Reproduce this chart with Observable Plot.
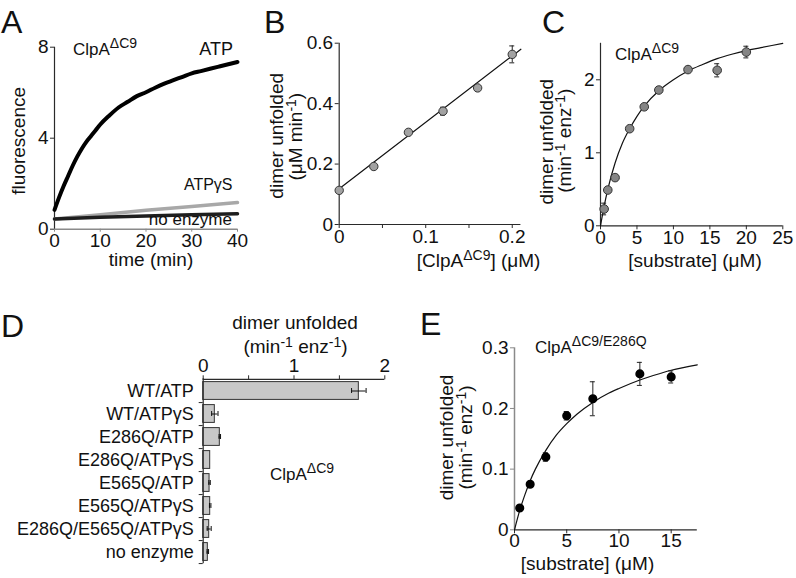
<!DOCTYPE html>
<html><head><meta charset="utf-8">
<script src="https://cdn.jsdelivr.net/npm/d3@7"></script>
<script src="https://cdn.jsdelivr.net/npm/@observablehq/plot@0.6"></script>
<style>
body{margin:0;background:#fff;}
#fig{position:relative;width:796px;height:578px;overflow:hidden;background:#fff;}
#fig svg{position:absolute;overflow:visible;}
</style></head><body><div id="fig"></div>
<script>
// ---------- Panel A: fluorescence traces ----------
const timeA = [0,1,2,3,4,5,6,7,8,9,10,12,14,16,18,20,22,24,26,28,30,32,34,36,38,40];
const fluorATP = [0.85,1.4,1.9,2.35,2.8,3.2,3.55,3.85,4.1,4.35,4.6,5.0,5.35,5.6,5.85,6.02,6.22,6.4,6.55,6.7,6.85,6.95,7.05,7.15,7.25,7.35];
const timeLin = [0,10,20,30,40];
const fluorATPgS = [0.45,0.64,0.83,1.0,1.17];
const fluorNoEnz = [0.45,0.52,0.58,0.63,0.68];
const ticksAx = [0,10,20,30,40];
const ticksAy = [0,4,8];

// ---------- Panel B: rate vs [ClpA] ----------
const clpAConc = [0,0.04,0.08,0.12,0.16,0.2];
const rateB = [0.113,0.192,0.305,0.375,0.452,0.563];
const errB = [0,0,0,0.013,0,0.028];
const fitBx = [0,0.21];
const fitBy = [0.118,0.580];
const ticksBx = [0,0.1,0.2];
const minorBx = [0.05,0.15];
const ticksBy = [0,0.2,0.4,0.6];

// ---------- Panel C: Michaelis-Menten ClpA dC9 ----------
const substrateC = [0.5,1,2,4,6,8,12,16,20];
const rateC = [0.23,0.49,0.66,1.33,1.63,1.86,2.14,2.13,2.38];
const errC = [0.08,0,0,0,0.03,0,0,0.09,0.08];
const fitCx = [0,0.5,1,2,3,4,5,6,8,10,12,14,16,18,20,22,25];
const fitCy = [0,0.27,0.5,0.86,1.13,1.33,1.5,1.64,1.85,2.0,2.12,2.21,2.29,2.35,2.4,2.44,2.5];
const ticksCx = [0,5,10,15,20,25];
const ticksCy = [0,1,2];

// ---------- Panel D: bars ----------
const categoriesD = ["WT/ATP","WT/ATPγS","E286Q/ATP","E286Q/ATPγS","E565Q/ATP","E565Q/ATPγS","E286Q/E565Q/ATPγS","no enzyme"];
const valuesD = [1.714,0.128,0.183,0.077,0.07,0.077,0.066,0.051];
const errD = [0.08,0.035,0.008,0,0.008,0.008,0.022,0.008];
const ticksDx = [0,1,2];
const minorDx = [0.5,1.5];

// ---------- Panel E: E286Q ----------
const substrateE = [0.5,1.5,3,5,7.5,12,15];
const rateE = [0.036,0.075,0.120,0.188,0.216,0.257,0.252];
const errE = [0,0,0.007,0.007,0.028,0.019,0.01];
const fitEx = [0,0.5,1,1.5,2,3,4,5,6,7.5,9,10,12,14,15,17.5];
const fitEy = [0,0.032,0.058,0.081,0.1,0.131,0.156,0.175,0.191,0.21,0.225,0.233,0.247,0.258,0.263,0.272];
const ticksEx = [0,5,10,15];
const ticksEy = [0,0.1,0.2,0.3];

// ---------- helpers ----------
const FONT = '"Liberation Sans", Arial, Helvetica, sans-serif';
const baseStyle = {fontFamily: FONT, fontSize: "19px", color: "#111", background: "transparent", overflow: "visible"};
const fmt = d3.format("~g");
const zip = (xs, ys, es) => xs.map((x, i) => ({x, y: ys[i], e: es ? es[i] : 0}));
const DARK = "#2a2a2a", GRAY = "#8a8a8a";

function txt(svg, x, y, parts, o = {}) {
  const t = d3.select(svg).append("text")
    .attr("transform", `translate(${x},${y})` + (o.rotate ? ` rotate(${o.rotate})` : ""))
    .attr("text-anchor", o.anchor || "start")
    .attr("font-size", o.size || 19)
    .attr("font-family", FONT)
    .attr("fill", "#111");
  let cur = 0;
  for (const p of parts) {
    const sup = Array.isArray(p);
    const target = sup ? -(o.raise || 7) : 0;
    const s = t.append("tspan").attr("dy", target - cur).text(sup ? p[0] : p);
    if (sup) s.attr("font-size", o.supSize || 14);
    cur = target;
  }
}
function errMarks(pts, stroke) {
  const ep = pts.filter(d => d.e > 0);
  return [
    Plot.ruleX(ep, {x: "x", y1: d => d.y - d.e, y2: d => d.y + d.e, stroke, strokeWidth: 1}),
    Plot.ruleY(ep, {y: d => d.y + d.e, x1: "x", x2: "x", insetLeft: -2.5, insetRight: -2.5, stroke, strokeWidth: 1}),
    Plot.ruleY(ep, {y: d => d.y - d.e, x1: "x", x2: "x", insetLeft: -2.5, insetRight: -2.5, stroke, strokeWidth: 1})
  ];
}
const fig = document.getElementById("fig");
function place(svg, left, top) { svg.style.left = left + "px"; svg.style.top = top + "px"; fig.appendChild(svg); }

// ---------- A ----------
const A = Plot.plot({
  width: 260, height: 290, marginLeft: 54, marginRight: 23, marginTop: 46.7, marginBottom: 61.3,
  x: {domain: [0, 40]}, y: {domain: [0, 8]}, style: baseStyle,
  marks: [
    Plot.axisX({ticks: ticksAx, tickSize: 3, tickPadding: 1, label: null, stroke: GRAY, tickFormat: fmt}),
    Plot.axisY({ticks: ticksAy, tickSize: 4, tickPadding: 2, label: null, stroke: DARK, tickFormat: fmt}),
    Plot.ruleY([0], {stroke: GRAY, strokeWidth: 1.6}),
    Plot.ruleX([0], {stroke: DARK, strokeWidth: 1.2}),
    Plot.line(zip(timeLin, fluorATPgS), {x: "x", y: "y", stroke: "#a8a8a8", strokeWidth: 3.5}),
    Plot.line(zip(timeLin, fluorNoEnz), {x: "x", y: "y", stroke: "#1e1e1e", strokeWidth: 3.5}),
    Plot.line(zip(timeA, fluorATP), {x: "x", y: "y", stroke: "#000", strokeWidth: 4, curve: "monotone-x"})
  ]
});
place(A, 0, 0);
txt(A, 1, 33, ["A"], {size: 32});
txt(A, 73, 55, ["ClpA", ["ΔC9"]], {size: 17});
txt(A, 233, 55, ["ATP"], {anchor: "end", size: 18});
txt(A, 232.5, 190, ["ATPγS"], {anchor: "end", size: 16});
txt(A, 232, 224.5, ["no enzyme"], {anchor: "end", size: 17});
txt(A, 151, 266, ["time (min)"], {anchor: "middle"});
txt(A, 24.5, 140.8, ["fluorescence"], {anchor: "middle", rotate: -90});

// ---------- B ----------
const ptsB = zip(clpAConc, rateB, errB);
const B = Plot.plot({
  width: 270, height: 290, marginLeft: 78.7, marginRight: 9.6, marginTop: 42.7, marginBottom: 66,
  x: {domain: [0, 0.21]}, y: {domain: [0, 0.6]}, style: baseStyle,
  marks: [
    Plot.ruleX([0], {stroke: DARK, strokeWidth: 1.2}),
    Plot.ruleY([0], {stroke: DARK, strokeWidth: 1.2}),
    Plot.axisY({ticks: ticksBy, tickSize: 4, tickPadding: 2, label: null, stroke: DARK, tickFormat: fmt}),
    Plot.axisX({ticks: ticksBx, tickSize: 4, tickPadding: 1, label: null, stroke: DARK, tickFormat: fmt}),
    Plot.axisX({ticks: minorBx, tickSize: 4, tickFormat: () => "", label: null, stroke: DARK}),
    Plot.line(zip(fitBx, fitBy), {x: "x", y: "y", stroke: "#111", strokeWidth: 1.2}),
    ...errMarks(ptsB, "#222"),
    Plot.dot(ptsB, {x: "x", y: "y", r: 4.2, fill: "#a2a2a2", stroke: "#333", strokeWidth: 1})
  ]
});
place(B, 260, 0);
txt(B, 4, 33, ["B"], {size: 32});
txt(B, 156.7, 267, ["[ClpA", ["ΔC9"], "] (μM)"]);
txt(B, 23, 135.8, ["dimer unfolded"], {anchor: "middle", rotate: -90});
txt(B, 42, 136.7, ["(μM min", ["-1"], ")"], {anchor: "middle", rotate: -90, raise: 6});

// ---------- C ----------
const ptsC = zip(substrateC, rateC, errC);
const C = Plot.plot({
  width: 266, height: 290, marginLeft: 70, marginRight: 13.7, marginTop: 42.8, marginBottom: 64.7,
  x: {domain: [0, 25]}, y: {domain: [0, 2.5]}, style: baseStyle,
  marks: [
    Plot.ruleX([0], {stroke: DARK, strokeWidth: 1.2}),
    Plot.ruleY([0], {stroke: DARK, strokeWidth: 1.2}),
    Plot.axisY({ticks: ticksCy, tickSize: 4, tickPadding: 2, label: null, stroke: DARK, tickFormat: fmt}),
    Plot.axisX({ticks: ticksCx, tickSize: 4, tickPadding: 1, label: null, stroke: DARK, tickFormat: fmt}),
    Plot.line(zip(fitCx, fitCy), {x: "x", y: "y", stroke: "#111", strokeWidth: 1.2, curve: "monotone-x"}),
    ...errMarks(ptsC, "#222"),
    Plot.dot(ptsC, {x: "x", y: "y", r: 4.3, fill: "#858585", stroke: "#333", strokeWidth: 1})
  ]
});
place(C, 530, 0);
txt(C, 12, 33, ["C"], {size: 32});
txt(C, 85, 60, ["ClpA", ["ΔC9"]], {size: 17});
txt(C, 165, 266.7, ["[substrate] (μM)"], {anchor: "middle"});
txt(C, 23, 141.7, ["dimer unfolded"], {anchor: "middle", rotate: -90});
txt(C, 41, 140.8, ["(min", ["-1"], " enz", ["-1"], ")"], {anchor: "middle", rotate: -90, raise: 6});

// ---------- D ----------
const dataD = categoriesD.map((c, i) => ({c, v: valuesD[i], e: errD[i]}));
const mtD = 88.3, mbD = 14.7, hD = 288;
const bwD = (hD - mtD - mbD) / categoriesD.length;
const D = Plot.plot({
  width: 400, height: hD, marginLeft: 202.7, marginRight: 15.7, marginTop: mtD, marginBottom: mbD,
  x: {domain: [0, 2]}, y: {type: "band", domain: categoriesD, padding: 0}, style: baseStyle,
  marks: [
    Plot.barX(dataD, {x: "v", y: "c", fill: "#c8c8c8", stroke: "#333", strokeWidth: 1, insetTop: 2.6, insetBottom: 2.6}),
    Plot.ruleY(dataD.filter(d => d.e > 0), {y: "c", x1: d => d.v - d.e, x2: d => d.v + d.e, stroke: "#111", strokeWidth: 1}),
    Plot.tickX(dataD.filter(d => d.e > 0), {x: d => d.v - d.e, y: "c", insetTop: 9, insetBottom: 9, stroke: "#111"}),
    Plot.tickX(dataD.filter(d => d.e > 0), {x: d => d.v + d.e, y: "c", insetTop: 9, insetBottom: 9, stroke: "#111"}),
    Plot.ruleX([0], {stroke: DARK, strokeWidth: 1.2}),
    Plot.ruleY([categoriesD[0]], {dy: -bwD / 2, stroke: DARK, strokeWidth: 1.2}),
    Plot.ruleY(categoriesD, {dy: bwD / 2, x1: () => 0, x2: () => 0, insetLeft: -4, stroke: DARK}),
    Plot.axisX({anchor: "top", ticks: ticksDx, tickSize: 4, tickPadding: 3, label: null, stroke: DARK, tickFormat: fmt}),
    Plot.axisX({anchor: "top", ticks: minorDx, tickSize: 4, tickFormat: () => "", label: null, stroke: DARK}),
    Plot.axisY({tickSize: 0, tickPadding: 9.4, label: null, fontSize: 18})
  ]
});
place(D, 0, 290);
txt(D, 1, 47, ["D"], {size: 32});
txt(D, 295, 39.3, ["dimer unfolded"], {anchor: "middle"});
txt(D, 295.5, 63, ["(min", ["-1"], " enz", ["-1"], ")"], {anchor: "middle", raise: 6});
txt(D, 270, 190, ["ClpA", ["ΔC9"]], {size: 17});

// ---------- E ----------
const ptsE = zip(substrateE, rateE, errE);
const E = Plot.plot({
  width: 396, height: 278, marginLeft: 114, marginRight: 99.2, marginTop: 47.3, marginBottom: 48.7,
  x: {domain: [0, 17.5]}, y: {domain: [0, 0.3]}, style: baseStyle,
  marks: [
    Plot.ruleX([0], {stroke: GRAY, strokeWidth: 1.5}),
    Plot.ruleY([0], {stroke: DARK, strokeWidth: 1.2}),
    Plot.axisY({ticks: ticksEy, tickSize: 4, tickPadding: 2, label: null, stroke: GRAY, tickFormat: fmt}),
    Plot.axisX({ticks: ticksEx, tickSize: 4, tickPadding: 0, label: null, stroke: DARK, tickFormat: fmt}),
    Plot.line(zip(fitEx, fitEy), {x: "x", y: "y", stroke: "#111", strokeWidth: 1.2, curve: "monotone-x"}),
    ...errMarks(ptsE, "#222"),
    Plot.dot(ptsE, {x: "x", y: "y", r: 3.8, fill: "#000", stroke: "#000"})
  ]
});
place(E, 400, 300);
txt(E, 20, 35, ["E"], {size: 32});
txt(E, 135, 53.3, ["ClpA", ["ΔC9/E286Q"]], {size: 17});
txt(E, 187.5, 269.5, ["[substrate] (μM)"], {anchor: "middle"});
txt(E, 53, 137.5, ["dimer unfolded"], {anchor: "middle", rotate: -90});
txt(E, 72, 137.5, ["(min", ["-1"], " enz", ["-1"], ")"], {anchor: "middle", rotate: -90, raise: 6});
</script></body></html>
